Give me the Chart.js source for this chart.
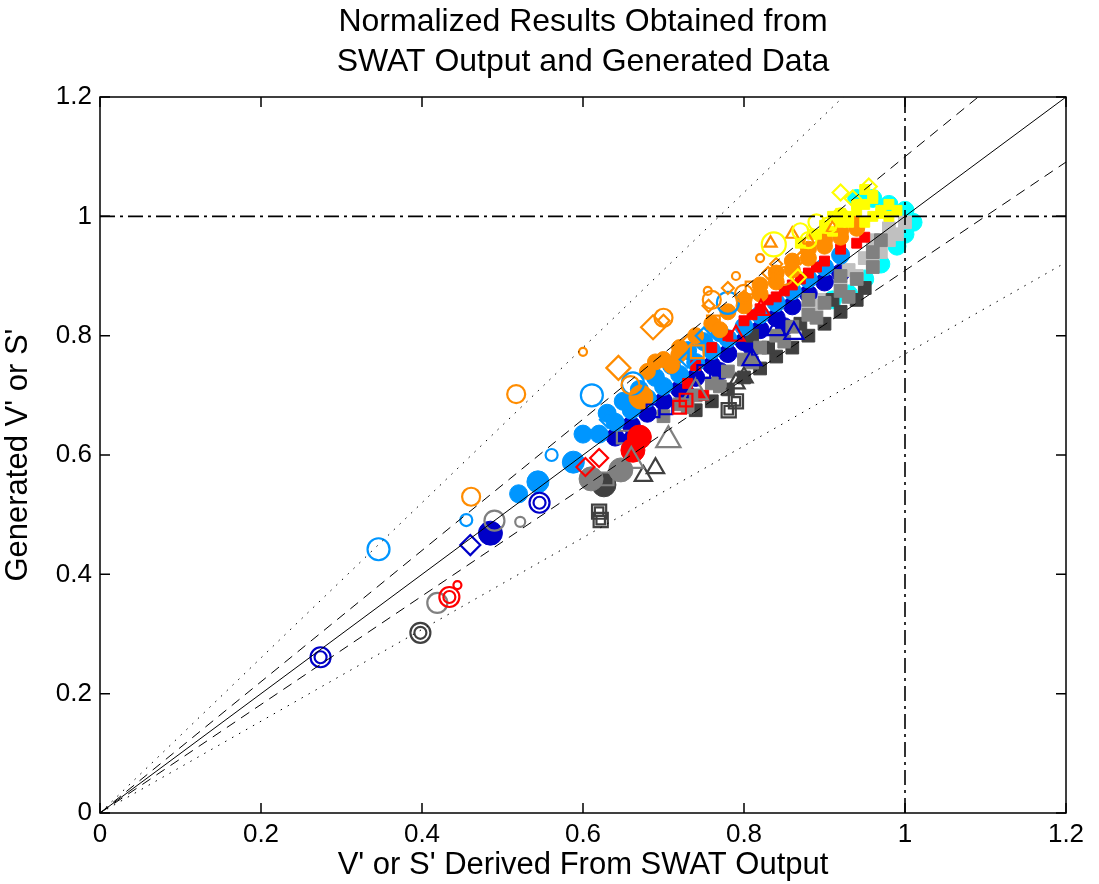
<!DOCTYPE html>
<html lang="en">
<head>
  <meta charset="UTF-8" />
  <title>Normalized Results</title>
  <script src="https://cdn.jsdelivr.net/npm/chart.js"></script>
  <style>
    html, body { margin: 0; padding: 0; background: #fff; }
    #wrap { width: 1099px; height: 884px; }
  </style>
</head>
<body>
<div id="wrap"><canvas id="chart" width="1099" height="884"></canvas></div>
<script>
  // axis ticks
  const tickValues = [0, 0.2, 0.4, 0.6, 0.8, 1, 1.2];
  const tickLabels = ['0', '0.2', '0.4', '0.6', '0.8', '1', '1.2'];

  // guide lines (endpoints)
  const oneToOne   = [[0, 0], [1.2, 1.2]];
  const upperDash  = [[0, 0], [1.2, 1.32]];
  const lowerDash  = [[0, 0], [1.2, 1.091]];
  const upperDot   = [[0, 0], [1.2, 1.56]];
  const lowerDot   = [[0, 0], [1.2, 0.923]];
  const unitV      = [[1, 0], [1, 1.2]];
  const unitH      = [[0, 1], [1.2, 1]];

  // yellow
  const yellowBigCircle = [[0.837, 0.953]];
  const yellowCircles = [[0.87, 0.975], [0.89, 0.99], [0.92, 1.0], [0.88, 0.96], [0.905, 0.985]];
  const yellowDiamonds = [[0.92, 1.04], [0.955, 1.05], [0.935, 1.03], [0.867, 0.898]];
  const yellowFilled = [[0.90, 0.98], [0.92, 0.99], [0.94, 1.01], [0.95, 1.02], [0.96, 1.03], [0.93, 1.0],
    [0.97, 1.01], [0.98, 1.02], [0.91, 1.0], [0.95, 0.99], [0.89, 0.97], [0.96, 1.0], [0.99, 1.01],
    [0.87, 0.955], [0.885, 0.97], [0.90, 0.985], [0.92, 1.005], [0.94, 1.02], [0.96, 1.035], [0.97, 1.005],
    [0.98, 1.0], [0.93, 0.99], [0.91, 0.975], [0.95, 1.045]];

  // orange
  const orangeCircles = [[0.517, 0.702], [0.461, 0.53], [0.659, 0.717], [0.70, 0.83], [0.80, 0.87], [0.85, 0.90], [0.76, 0.86]];
  const orangeSmallCircles = [[0.60, 0.773], [0.755, 0.875], [0.82, 0.93], [0.79, 0.90]];
  const orangeBigDiamonds = [[0.644, 0.746], [0.687, 0.814]];
  const orangeDiamonds = [[0.70, 0.825], [0.756, 0.85], [0.80, 0.865], [0.78, 0.88], [0.84, 0.92], [0.87, 0.93], [0.83, 0.905], [0.73, 0.79]];
  const orangeSquares = [[0.742, 0.773], [0.762, 0.823], [0.81, 0.88], [0.84, 0.90]];
  const orangeTriangles = [[0.833, 0.955], [0.86, 0.97], [0.88, 0.96], [0.91, 0.98]];
  const orangeFilledBig = [[0.672, 0.697]];
  const orangeFilled = [[0.69, 0.756], [0.719, 0.768], [0.68, 0.74], [0.70, 0.76], [0.72, 0.78], [0.74, 0.80],
    [0.76, 0.82], [0.78, 0.84], [0.80, 0.86], [0.82, 0.885], [0.84, 0.905], [0.86, 0.925], [0.88, 0.945],
    [0.90, 0.96], [0.92, 0.975], [0.94, 0.99], [0.80, 0.85], [0.82, 0.87], [0.84, 0.89], [0.86, 0.91],
    [0.88, 0.93], [0.90, 0.95], [0.92, 0.965], [0.94, 0.98], [0.77, 0.81], [0.71, 0.75]];

  // light blue
  const lightBlueCircles = [[0.346, 0.442], [0.611, 0.70], [0.662, 0.72], [0.78, 0.855]];
  const lightBlueSmallCircles = [[0.455, 0.491], [0.561, 0.60]];
  const lightBlueDiamonds = [[0.631, 0.659], [0.73, 0.76], [0.75, 0.80]];
  const lightBlueFilledBig = [[0.544, 0.555], [0.588, 0.588]];
  const lightBlueFilled = [[0.52, 0.535], [0.62, 0.635], [0.64, 0.655], [0.66, 0.675], [0.68, 0.695],
    [0.70, 0.715], [0.72, 0.735], [0.74, 0.755], [0.76, 0.775], [0.78, 0.795], [0.80, 0.815], [0.82, 0.835],
    [0.84, 0.855], [0.86, 0.875], [0.88, 0.895], [0.90, 0.915], [0.92, 0.935], [0.60, 0.635], [0.63, 0.67],
    [0.65, 0.69], [0.67, 0.71], [0.69, 0.73], [0.71, 0.75], [0.73, 0.775], [0.75, 0.79], [0.77, 0.805]];

  // red
  const redRings = [[0.434, 0.362]];
  const redSmallCircles = [[0.444, 0.382]];
  const redDiamonds = [[0.603, 0.58], [0.62, 0.595]];
  const redFilledBig = [[0.662, 0.608], [0.67, 0.63]];
  const redSquares = [[0.728, 0.692], [0.72, 0.68]];
  const redTriangles = [[0.821, 0.843], [0.79, 0.80]];
  const redFilled = [[0.74, 0.75], [0.76, 0.78], [0.78, 0.80], [0.80, 0.825], [0.82, 0.845], [0.84, 0.865],
    [0.86, 0.885], [0.88, 0.905], [0.90, 0.925], [0.92, 0.945], [0.83, 0.86], [0.87, 0.895], [0.95, 0.965],
    [0.94, 0.955], [0.73, 0.72], [0.75, 0.70], [0.81, 0.835], [0.85, 0.875], [0.89, 0.915]];

  // dark blue
  const blueRings = [[0.274, 0.261], [0.546, 0.52]];
  const blueFilledBig = [[0.485, 0.469], [0.663, 0.622]];
  const blueDiamonds = [[0.46, 0.449]];
  const blueSquares = [[0.703, 0.679], [0.687, 0.674], [0.75, 0.74]];
  const blueTriangles = [[0.81, 0.76], [0.862, 0.804], [0.84, 0.81]];
  const blueFilled = [[0.64, 0.63], [0.66, 0.65], [0.68, 0.67], [0.70, 0.69], [0.72, 0.71], [0.74, 0.73],
    [0.76, 0.75], [0.78, 0.77], [0.80, 0.79], [0.82, 0.81], [0.84, 0.83], [0.86, 0.85], [0.88, 0.87],
    [0.90, 0.89], [0.92, 0.905], [0.73, 0.70], [0.77, 0.74], [0.81, 0.78], [0.85, 0.815]];

  // gray
  const grayCircles = [[0.419, 0.352], [0.49, 0.49]];
  const graySmallCircles = [[0.522, 0.488]];
  const grayFilledBig = [[0.647, 0.575], [0.61, 0.56]];
  const grayTriangles = [[0.706, 0.625], [0.66, 0.59], [0.74, 0.705]];
  const graySquares = [[0.65, 0.63], [0.63, 0.56]];
  const grayFilled = [[0.70, 0.665], [0.72, 0.685], [0.74, 0.70], [0.76, 0.72], [0.78, 0.74], [0.80, 0.76],
    [0.82, 0.78], [0.84, 0.80], [0.86, 0.815], [0.88, 0.835], [0.90, 0.855], [0.92, 0.875], [0.94, 0.895],
    [0.96, 0.915], [0.73, 0.68], [0.77, 0.715], [0.81, 0.755], [0.85, 0.79], [0.89, 0.83], [0.93, 0.865],
    [0.88, 0.86], [0.92, 0.90], [0.96, 0.94], [0.97, 0.96]];

  // dark gray
  const darkGrayRings = [[0.398, 0.302]];
  const darkGraySquares = [[0.622, 0.491], [0.62, 0.505], [0.781, 0.675], [0.79, 0.69]];
  const darkGrayFilledBig = [[0.626, 0.55]];
  const darkGrayTriangles = [[0.69, 0.578], [0.675, 0.565], [0.80, 0.73], [0.79, 0.72]];
  const darkGrayFilled = [[0.74, 0.675], [0.76, 0.69], [0.78, 0.71], [0.80, 0.73], [0.82, 0.745], [0.84, 0.765],
    [0.86, 0.78], [0.88, 0.80], [0.90, 0.82], [0.92, 0.84], [0.94, 0.86], [0.95, 0.88], [0.83, 0.78],
    [0.87, 0.82], [0.91, 0.86], [0.81, 0.80]];

  // light gray and cyan
  const lightGrayFilled = [[0.88, 0.84], [0.90, 0.86], [0.92, 0.88], [0.94, 0.90], [0.96, 0.92], [0.97, 0.94],
    [0.98, 0.96], [0.99, 0.97], [1.0, 0.99], [0.95, 0.93], [0.93, 0.91], [0.96, 0.96], [0.98, 0.98], [0.89, 0.85]];
  const cyanFilled = [[0.91, 0.86], [0.93, 0.87], [0.95, 0.895], [0.97, 0.92], [0.99, 0.95], [1.0, 0.97],
    [1.01, 0.99], [1.0, 1.01], [0.98, 1.02], [0.96, 1.03], [0.94, 1.03]];

  const ORANGE = '#ff8c00', LIGHTBLUE = '#0096ff', BLUE = '#0000c8', RED = '#ff0000',
        GRAY = '#808080', DARKGRAY = '#404040', LIGHTGRAY = '#c0c0c0', YELLOW = '#ffff00', CYAN = '#00ffff';

  const pts = arr => arr.map(p => ({ x: p[0], y: p[1] }));

  function marks(arr, color, style, r, filled) {
    return {
      data: pts(arr),
      pointStyle: style,
      pointRadius: r,
      pointBorderWidth: filled ? 1 : 2.2,
      borderColor: color,
      backgroundColor: filled ? color : 'rgba(0,0,0,0)',
      showLine: false
    };
  }

  function guide(arr, dash, width) {
    return {
      data: pts(arr),
      showLine: true,
      borderColor: '#000',
      borderWidth: width || 1,
      borderDash: dash,
      pointRadius: 0,
      fill: false
    };
  }

  // first dataset is drawn on top
  const datasets = [
    guide(unitV, [15, 5, 3, 5], 1.6),
    guide(unitH, [15, 5, 3, 5], 1.6),
    guide(oneToOne, []),
    guide(upperDash, [10, 7]),
    guide(lowerDash, [10, 7]),
    guide(upperDot, [1.5, 6.5]),
    guide(lowerDot, [1.5, 6.5]),

    marks(yellowBigCircle, YELLOW, 'circle', 12, false),
    marks(yellowCircles, YELLOW, 'circle', 8, false),
    marks(yellowDiamonds, YELLOW, 'rectRot', 8, false),
    marks(orangeCircles, ORANGE, 'circle', 9, false),
    marks(orangeSmallCircles, ORANGE, 'circle', 4, false),
    marks(orangeBigDiamonds, ORANGE, 'rectRot', 12, false),
    marks(orangeDiamonds, ORANGE, 'rectRot', 6, false),
    marks(orangeSquares, ORANGE, 'rect', 9, false),
    marks(orangeTriangles, ORANGE, 'triangle', 7, false),
    marks(lightBlueCircles, LIGHTBLUE, 'circle', 11, false),
    marks(lightBlueSmallCircles, LIGHTBLUE, 'circle', 6, false),
    marks(lightBlueDiamonds, LIGHTBLUE, 'rectRot', 8, false),
    marks(redRings, RED, 'circle', 10, false),
    marks(redRings, RED, 'circle', 6, false),
    marks(redSmallCircles, RED, 'circle', 4, false),
    marks(redDiamonds, RED, 'rectRot', 9, false),
    marks(redSquares, RED, 'rect', 9, false),
    marks(redTriangles, RED, 'triangle', 10, false),
    marks(blueRings, BLUE, 'circle', 10, false),
    marks(blueRings, BLUE, 'circle', 6, false),
    marks(blueDiamonds, BLUE, 'rectRot', 10, false),
    marks(blueSquares, BLUE, 'rect', 9, false),
    marks(blueTriangles, BLUE, 'triangle', 11, false),
    marks(grayTriangles, GRAY, 'triangle', 14, false),
    marks(darkGraySquares, DARKGRAY, 'rect', 10, false),
    marks(darkGraySquares, DARKGRAY, 'rect', 6, false),
    marks(darkGrayTriangles, DARKGRAY, 'triangle', 10, false),
    marks(yellowFilled, YELLOW, 'rect', 7, true),
    marks(orangeFilledBig, ORANGE, 'circle', 12, true),
    marks(orangeFilled, ORANGE, 'circle', 8, true),
    marks(redFilledBig, RED, 'circle', 12, true),
    marks(redFilled, RED, 'rect', 7, true),
    marks(lightBlueFilledBig, LIGHTBLUE, 'circle', 11, true),
    marks(lightBlueFilled, LIGHTBLUE, 'circle', 9, true),
    marks(grayCircles, GRAY, 'circle', 10, false),
    marks(graySmallCircles, GRAY, 'circle', 5, false),
    marks(graySquares, GRAY, 'rect', 9, false),
    marks(grayFilledBig, GRAY, 'circle', 12, true),
    marks(grayFilled, GRAY, 'rect', 9, true),
    marks(darkGrayRings, DARKGRAY, 'circle', 10, false),
    marks(darkGrayRings, DARKGRAY, 'circle', 6, false),
    marks(darkGrayFilledBig, DARKGRAY, 'circle', 12, true),
    marks(darkGrayFilled, DARKGRAY, 'rect', 9, true),
    marks(lightGrayFilled, LIGHTGRAY, 'rect', 9, true),
    marks(blueFilledBig, BLUE, 'circle', 12, true),
    marks(blueFilled, BLUE, 'circle', 9, true),
    marks(cyanFilled, CYAN, 'circle', 9, true)
  ];

  // box with inward ticks on all four sides
  const boxTicks = {
    id: 'boxTicks',
    afterDraw(chart) {
      const { ctx, chartArea: a, scales } = chart;
      const len = 10;
      ctx.save();
      ctx.strokeStyle = '#000';
      ctx.lineWidth = 1.5;
      ctx.strokeRect(a.left, a.top, a.right - a.left, a.bottom - a.top);
      ctx.beginPath();
      tickValues.forEach(v => {
        const px = scales.x.getPixelForValue(v);
        ctx.moveTo(px, a.bottom); ctx.lineTo(px, a.bottom - len);
        ctx.moveTo(px, a.top); ctx.lineTo(px, a.top + len);
        const py = scales.y.getPixelForValue(v);
        ctx.moveTo(a.left, py); ctx.lineTo(a.left + len, py);
        ctx.moveTo(a.right, py); ctx.lineTo(a.right - len, py);
      });
      ctx.stroke();
      ctx.restore();
    }
  };

  const FONT = "'Liberation Sans', Arial, Helvetica, sans-serif";

  function axis(titleText, isX) {
    return {
      type: 'linear',
      min: 0,
      max: 1.2,
      afterBuildTicks: s => { s.ticks = tickValues.map(v => ({ value: v })); },
      afterFit: s => { if (isX) s.height = 71; else s.width = 100; },
      grid: { display: false, drawTicks: false },
      border: { display: false },
      ticks: {
        color: '#000',
        font: { family: FONT, size: 26 },
        padding: isX ? 6 : 8,
        maxRotation: 0,
        callback: (v, i) => tickLabels[i]
      },
      title: {
        display: true,
        text: titleText,
        color: '#000',
        font: { family: FONT, size: 31 },
        padding: isX ? { top: 0, bottom: 0 } : { top: 0, bottom: 4 }
      }
    };
  }

  new Chart(document.getElementById('chart'), {
    type: 'scatter',
    data: { datasets },
    plugins: [boxTicks],
    options: {
      responsive: false,
      animation: false,
      layout: { padding: { left: 0, right: 33, top: 0, bottom: 0 } },
      plugins: {
        legend: { display: false },
        tooltip: { enabled: false },
        title: {
          display: true,
          fullSize: false,
          text: ['Normalized Results Obtained from', 'SWAT Output and Generated Data'],
          color: '#000',
          font: { family: FONT, size: 32, weight: 'normal', lineHeight: 1.25 },
          padding: { top: 2, bottom: 15 }
        }
      },
      scales: {
        x: axis("V' or S' Derived From SWAT Output", true),
        y: axis("Generated V' or S'", false)
      }
    }
  });
</script>
</body>
</html>
